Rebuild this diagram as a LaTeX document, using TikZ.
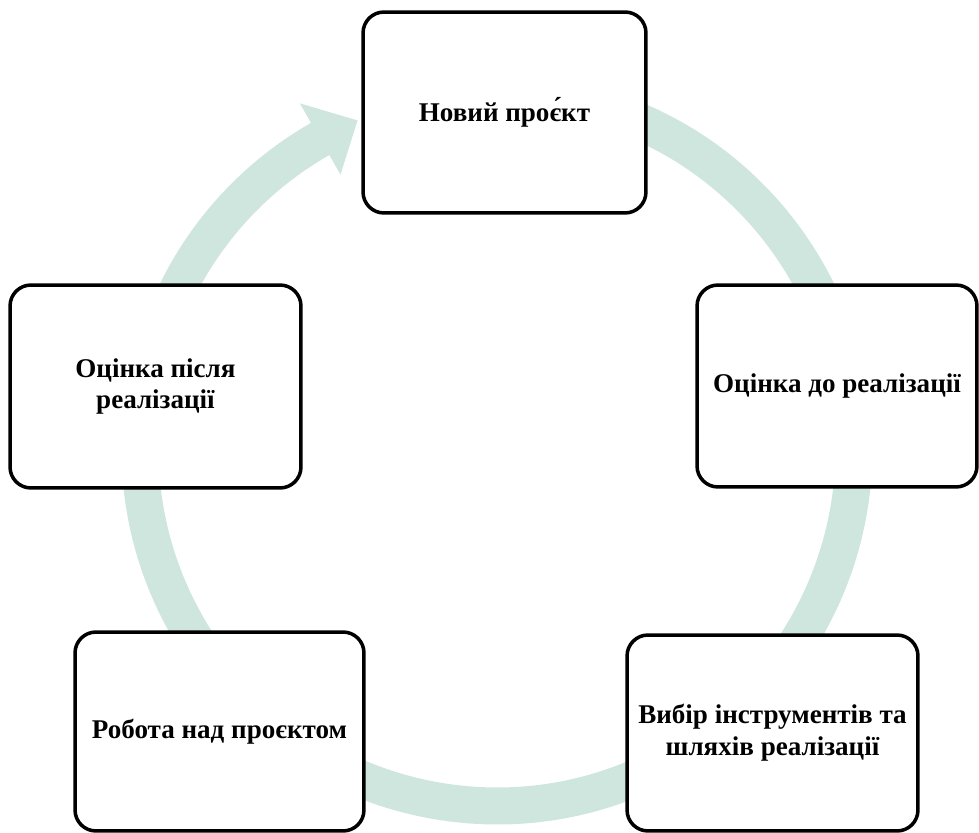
\documentclass[tikz,border=0pt]{standalone}
\usepackage{fontspec}
\setmainfont{Liberation Serif}
\usetikzlibrary{calc}
\definecolor{ringgreen}{RGB}{206,230,221}
\begin{document}
\begin{tikzpicture}[x=0.02cm,y=0.02cm]
\tikzstyle{stage}=[draw,line width=2pt,rounded corners=0.42cm,fill=white,align=center,
  font=\fontsize{15.4}{18}\selectfont\bfseries,inner sep=0pt];
\useasboundingbox (0,0) rectangle (979,832);
\coordinate (ctr) at (497,383);
\fill[ringgreen] ($(ctr)+(80:7.51cm)$) arc[start angle=80,end angle=-240.3,radius=7.51cm]
  -- ($(ctr)+(-240.3:7.96cm)$) -- ($(ctr)+(-247:7.14cm)$) -- ($(ctr)+(-240.3:6.32cm)$)
  -- ($(ctr)+(-240.3:6.77cm)$) arc[start angle=-240.3,end angle=80,radius=6.77cm] -- cycle;
\node[stage,minimum width=5.66cm,minimum height=4.02cm] (novyi) at (504.5,719.5) {Новий проє́кт};
\node[stage,minimum width=5.6cm,minimum height=4.04cm] (do) at (837,446) {Оцінка до реалізації};
\node[stage,minimum width=5.82cm,minimum height=3.92cm] (vybir) at (772.5,99) {Вибір інструментів та\\шляхів реалізації};
\node[stage,minimum width=5.78cm,minimum height=3.98cm] (robota) at (219.5,100.5) {Робота над проєктом};
\node[stage,minimum width=5.82cm,minimum height=4.06cm] (pislia) at (155.5,445.5) {Оцінка після\\реалізації};
\end{tikzpicture}
\end{document}
